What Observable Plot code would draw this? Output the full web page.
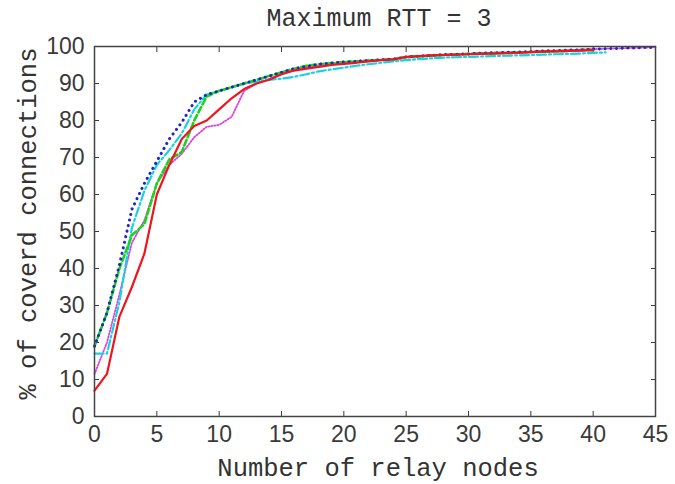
<!DOCTYPE html>
<html><head><meta charset="utf-8">
<script src="https://cdn.jsdelivr.net/npm/d3@7"></script>
<script src="https://cdn.jsdelivr.net/npm/@observablehq/plot@0.6"></script>
<style>body{margin:0;background:#fff}</style>
</head><body><div id="chart"></div>
<script>
const titleText = "Maximum RTT = 3";
const xLabel = "Number of relay nodes";
const yLabel = "% of coverd connections";
const xTicks = [0, 5, 10, 15, 20, 25, 30, 35, 40, 45];
const yTicks = [0, 10, 20, 30, 40, 50, 60, 70, 80, 90, 100];
const relayNodes = [0,1,2,3,4,5,6,7,8,9,10,11,12,13,14,15,16,17,18,19,20,21,22,23,24,25,26,27,28,29,30,31,32,33,34,35,36,37,38,39,40,41,42,43,44,45];

const redSeries = [7, 11.5, 27, 35, 44, 60, 68, 75, 78.5, 80, 83, 86, 88.5, 90, 91, 92.5, 93.5, 94, 94.5, 95, 95.3, 95.6, 96, 96.3, 96.5, 97.2, 97.4, 97.6, 97.7, 97.8, 97.9, 98, 98.1, 98.2, 98.3, 98.5, 98.6, 98.7, 98.8, 98.9, 99];
const greenSeries = [19, 28, 40, 49, 52, 63, 69.5, 71.5, 80, 86.5, 88, 89, 90, 91, 92, 93, 94, 94.8, 95.2, 95.5, 95.8, 96, 96.2, 96.4, 96.6, 97.1, 97.3, 97.5, 97.7, 97.8, 98, 98.1, 98.2, 98.3, 98.4, 98.5, 98.6, 98.7, 98.8, 99, 99.1];
const blueSeries = [19, 28, 41, 56, 63, 69, 75, 79.5, 85, 87, 88, 89, 90, 91, 92, 93, 94, 94.6, 95.2, 95.5, 95.8, 96, 96.2, 96.4, 96.6, 97.2, 97.4, 97.6, 97.8, 97.9, 98, 98.2, 98.3, 98.4, 98.5, 98.6, 98.8, 98.9, 99, 99.1, 99.3, 99.4, 99.5, 99.6, 99.7, 99.8];
const cyanSeries = [17, 17, 31, 51, 61, 68, 72, 76.5, 83, 87, 88, 89, 90, 90.5, 91, 91.3, 91.8, 92.5, 93.3, 93.8, 94.3, 94.8, 95.2, 95.6, 96, 96.3, 96.6, 96.8, 97, 97.1, 97.2, 97.3, 97.4, 97.5, 97.6, 97.7, 97.8, 97.9, 98, 98.1, 98.3, 98.4];
const magentaSeries = [11.5, 20, 33, 47, 53, 63, 68, 71, 75.5, 78.3, 78.8, 81, 88, 90, 91.2, 92.5, 93.5, 94.2, 94.8, 95.3, 95.6, 96, 96.2, 96.4, 96.6, 97.2, 97.4, 97.6, 97.8, 97.9, 98, 98.2, 98.3, 98.4, 98.5, 98.6, 98.8, 98.9, 99, 99.2, 99.3, 99.4, 99.5, 99.6, 99.7, 99.8];

const rows = vals => vals.map((v, i) => ({x: relayNodes[i], y: v}));
const mono = "'Liberation Mono', 'DejaVu Sans Mono', monospace";

const plot = Plot.plot({
  width: 675, height: 484,
  marginLeft: 94, marginRight: 20, marginTop: 46, marginBottom: 68,
  x: {domain: [0, 45]},
  y: {domain: [0, 100]},
  style: {fontFamily: "'Liberation Sans', Arial, sans-serif", fontSize: "23px", color: "#3a3a3a", background: "#fff"},
  marks: [
    Plot.axisX({anchor: "bottom", ticks: xTicks, tickSize: -5, tickPadding: 14, label: null}),
    Plot.axisX({anchor: "top", ticks: xTicks, tickSize: -5, tickFormat: () => "", label: null}),
    Plot.axisY({anchor: "left", ticks: yTicks, tickSize: -5, tickPadding: 15, label: null}),
    Plot.axisY({anchor: "right", ticks: yTicks, tickSize: -5, tickFormat: () => "", label: null}),
    Plot.line(rows(magentaSeries), {x: "x", y: "y", stroke: "#e040e0", strokeWidth: 1.8, strokeDasharray: "1.2,1.8"}),
    Plot.line(rows(cyanSeries), {x: "x", y: "y", stroke: "#16d2e2", strokeWidth: 2.2, strokeDasharray: "9,3,2,3"}),
    Plot.line(rows(greenSeries), {x: "x", y: "y", stroke: "#1ad41a", strokeWidth: 2.6, strokeDasharray: "6,3"}),
    Plot.line(rows(blueSeries), {x: "x", y: "y", stroke: "#2424c8", strokeWidth: 3, strokeDasharray: "0.1,5.6", strokeLinecap: "round"}),
    Plot.line(rows(redSeries), {x: "x", y: "y", stroke: "#f0141e", strokeWidth: 2.2}),
    Plot.frame({stroke: "#444", strokeWidth: 1.5}),
    Plot.text([titleText], {frameAnchor: "top", lineAnchor: "middle", textAnchor: "middle", dy: -29, dx: 4, fontFamily: mono, fontSize: 25, fill: "#333"}),
    Plot.text([xLabel], {frameAnchor: "bottom", lineAnchor: "middle", textAnchor: "middle", dy: 51, dx: 3, fontFamily: mono, fontSize: 25.5, fill: "#333"}),
    Plot.text([yLabel], {frameAnchor: "left", lineAnchor: "middle", textAnchor: "middle", dx: -67, dy: -8, rotate: -90, fontFamily: mono, fontSize: 25.5, fill: "#333"})
  ]
});
document.getElementById("chart").appendChild(plot);
</script>
</body></html>
